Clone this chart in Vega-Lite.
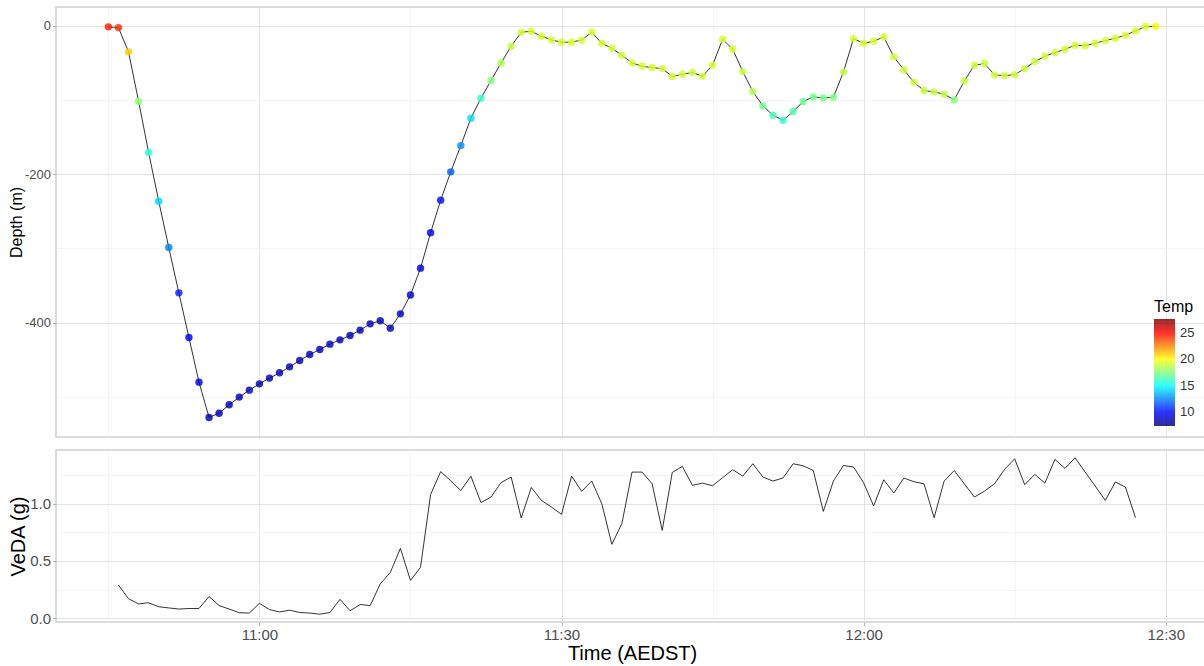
{
  "$schema": "https://vega.github.io/schema/vega-lite/v6.json",
  "background": "white",
  "padding": {"left": 7, "top": 6, "right": 0, "bottom": 0},
  "spacing": 11,
  "config": {
    "font": "Liberation Sans",
    "view": {"stroke": "#d0d0d0", "strokeWidth": 1.5},
    "legend": {"titleFontWeight": "normal"},
    "axis": {
      "domain": false,
      "tickColor": "#b3b3b3",
      "tickSize": 3.5,
      "labelColor": "#4d4d4d",
      "labelPadding": 2,
      "titleColor": "black",
      "titleFontWeight": "normal"
    }
  },
  "vconcat": [
    {
      "width": 1152,
      "height": 430,
      "data": {
        "format": {"parse": {"time": "date:'%H:%M'"}},
        "values": [
          {"time": "10:45", "depth": -1.3, "temp": 24.5},
          {"time": "10:46", "depth": -2.3, "temp": 24.2},
          {"time": "10:47", "depth": -35, "temp": 21.0},
          {"time": "10:48", "depth": -101.5, "temp": 17.8},
          {"time": "10:49", "depth": -170.8, "temp": 15.8},
          {"time": "10:50", "depth": -236.3, "temp": 14.2},
          {"time": "10:51", "depth": -298.9, "temp": 12.5},
          {"time": "10:52", "depth": -360, "temp": 10.5},
          {"time": "10:53", "depth": -420.2, "temp": 9.9},
          {"time": "10:54", "depth": -480.4, "temp": 9.4},
          {"time": "10:55", "depth": -528, "temp": 8.6},
          {"time": "10:56", "depth": -522.3, "temp": 8.6},
          {"time": "10:57", "depth": -511, "temp": 8.6},
          {"time": "10:58", "depth": -500.6, "temp": 8.6},
          {"time": "10:59", "depth": -491.2, "temp": 8.6},
          {"time": "11:00", "depth": -482.7, "temp": 8.6},
          {"time": "11:01", "depth": -475, "temp": 8.6},
          {"time": "11:02", "depth": -467.8, "temp": 8.6},
          {"time": "11:03", "depth": -459.8, "temp": 8.6},
          {"time": "11:04", "depth": -451.2, "temp": 8.6},
          {"time": "11:05", "depth": -443.2, "temp": 8.6},
          {"time": "11:06", "depth": -436.4, "temp": 8.6},
          {"time": "11:07", "depth": -429.2, "temp": 8.6},
          {"time": "11:08", "depth": -423.4, "temp": 8.7},
          {"time": "11:09", "depth": -417.5, "temp": 8.7},
          {"time": "11:10", "depth": -410.3, "temp": 8.7},
          {"time": "11:11", "depth": -401.8, "temp": 8.7},
          {"time": "11:12", "depth": -397.7, "temp": 8.7},
          {"time": "11:13", "depth": -407.6, "temp": 8.7},
          {"time": "11:14", "depth": -388.3, "temp": 8.9},
          {"time": "11:15", "depth": -363, "temp": 9.2},
          {"time": "11:16", "depth": -326.7, "temp": 9.5},
          {"time": "11:17", "depth": -279, "temp": 9.8},
          {"time": "11:18", "depth": -235, "temp": 10.2},
          {"time": "11:19", "depth": -196.8, "temp": 11.8},
          {"time": "11:20", "depth": -161.4, "temp": 12.8},
          {"time": "11:21", "depth": -124.5, "temp": 14.3},
          {"time": "11:22", "depth": -97.5, "temp": 16.0},
          {"time": "11:23", "depth": -73.7, "temp": 17.6},
          {"time": "11:24", "depth": -49.9, "temp": 18.4},
          {"time": "11:25", "depth": -27.4, "temp": 18.9},
          {"time": "11:26", "depth": -8.5, "temp": 19.2},
          {"time": "11:27", "depth": -7.2, "temp": 19.3},
          {"time": "11:28", "depth": -13.9, "temp": 19.2},
          {"time": "11:29", "depth": -18.9, "temp": 19.2},
          {"time": "11:30", "depth": -22, "temp": 19.2},
          {"time": "11:31", "depth": -22, "temp": 19.2},
          {"time": "11:32", "depth": -18.9, "temp": 19.2},
          {"time": "11:33", "depth": -8.5, "temp": 19.3},
          {"time": "11:34", "depth": -23.4, "temp": 19.2},
          {"time": "11:35", "depth": -30.1, "temp": 19.2},
          {"time": "11:36", "depth": -39.6, "temp": 19.2},
          {"time": "11:37", "depth": -49.9, "temp": 19.2},
          {"time": "11:38", "depth": -54.4, "temp": 19.2},
          {"time": "11:39", "depth": -56.2, "temp": 19.2},
          {"time": "11:40", "depth": -57.6, "temp": 19.2},
          {"time": "11:41", "depth": -68.3, "temp": 19.1},
          {"time": "11:42", "depth": -65.2, "temp": 19.1},
          {"time": "11:43", "depth": -62.9, "temp": 19.1},
          {"time": "11:44", "depth": -67.9, "temp": 19.1},
          {"time": "11:45", "depth": -53, "temp": 19.2},
          {"time": "11:46", "depth": -18, "temp": 19.2},
          {"time": "11:47", "depth": -31.5, "temp": 19.2},
          {"time": "11:48", "depth": -61.6, "temp": 19.0},
          {"time": "11:49", "depth": -88.5, "temp": 18.5},
          {"time": "11:50", "depth": -107.9, "temp": 17.2},
          {"time": "11:51", "depth": -120.4, "temp": 16.3},
          {"time": "11:52", "depth": -127.2, "temp": 16.0},
          {"time": "11:53", "depth": -115.5, "temp": 16.5},
          {"time": "11:54", "depth": -102, "temp": 17.0},
          {"time": "11:55", "depth": -95.7, "temp": 17.3},
          {"time": "11:56", "depth": -97.1, "temp": 17.3},
          {"time": "11:57", "depth": -96.2, "temp": 17.4},
          {"time": "11:58", "depth": -62, "temp": 18.8},
          {"time": "11:59", "depth": -17.1, "temp": 19.2},
          {"time": "12:00", "depth": -23.4, "temp": 19.2},
          {"time": "12:01", "depth": -20.7, "temp": 19.2},
          {"time": "12:02", "depth": -14.8, "temp": 19.2},
          {"time": "12:03", "depth": -41.8, "temp": 19.1},
          {"time": "12:04", "depth": -59.3, "temp": 19.0},
          {"time": "12:05", "depth": -76, "temp": 19.0},
          {"time": "12:06", "depth": -87.2, "temp": 18.9},
          {"time": "12:07", "depth": -89, "temp": 18.9},
          {"time": "12:08", "depth": -92.1, "temp": 18.8},
          {"time": "12:09", "depth": -99.8, "temp": 17.6},
          {"time": "12:10", "depth": -74.2, "temp": 18.8},
          {"time": "12:11", "depth": -53, "temp": 19.0},
          {"time": "12:12", "depth": -50.8, "temp": 19.0},
          {"time": "12:13", "depth": -66.1, "temp": 19.0},
          {"time": "12:14", "depth": -67, "temp": 19.0},
          {"time": "12:15", "depth": -65.7, "temp": 19.0},
          {"time": "12:16", "depth": -57.6, "temp": 19.1},
          {"time": "12:17", "depth": -48.1, "temp": 19.1},
          {"time": "12:18", "depth": -40.9, "temp": 19.1},
          {"time": "12:19", "depth": -36, "temp": 19.1},
          {"time": "12:20", "depth": -31.5, "temp": 19.2},
          {"time": "12:21", "depth": -26, "temp": 19.2},
          {"time": "12:22", "depth": -26.6, "temp": 19.2},
          {"time": "12:23", "depth": -23.4, "temp": 19.2},
          {"time": "12:24", "depth": -19.8, "temp": 19.2},
          {"time": "12:25", "depth": -16.6, "temp": 19.3},
          {"time": "12:26", "depth": -12.6, "temp": 19.3},
          {"time": "12:27", "depth": -6.7, "temp": 19.3},
          {"time": "12:28", "depth": -0.9, "temp": 19.4},
          {"time": "12:29", "depth": -0.9, "temp": 19.8}
        ]
      },
      "encoding": {
        "x": {
          "field": "time",
          "type": "temporal",
          "scale": {
            "domain": [
              {"year": 1900, "month": 1, "date": 1, "hours": 10, "minutes": 39, "seconds": 48},
              {"year": 1900, "month": 1, "date": 1, "hours": 12, "minutes": 34, "seconds": 12}
            ],
            "nice": false
          },
          "axis": {
            "title": null,
            "labels": false,
            "ticks": false,
            "values": [
              {"year": 1900, "month": 1, "date": 1, "hours": 10, "minutes": 45},
              {"year": 1900, "month": 1, "date": 1, "hours": 11, "minutes": 0},
              {"year": 1900, "month": 1, "date": 1, "hours": 11, "minutes": 15},
              {"year": 1900, "month": 1, "date": 1, "hours": 11, "minutes": 30},
              {"year": 1900, "month": 1, "date": 1, "hours": 11, "minutes": 45},
              {"year": 1900, "month": 1, "date": 1, "hours": 12, "minutes": 0},
              {"year": 1900, "month": 1, "date": 1, "hours": 12, "minutes": 15},
              {"year": 1900, "month": 1, "date": 1, "hours": 12, "minutes": 30}
            ],
            "gridColor": {"condition": {"test": "minutes(datum.value) % 30 === 0", "value": "#e4e4e4"}, "value": "#f0f0f0"},
            "gridWidth": {"condition": {"test": "minutes(datum.value) % 30 === 0", "value": 1}, "value": 0.7}
          }
        },
        "y": {
          "field": "depth",
          "type": "quantitative",
          "scale": {"domain": [-554.4, 25.5], "nice": false, "zero": false},
          "axis": {
            "title": "Depth (m)",
            "titleFontSize": 16,
            "titleX": -40,
            "titleBaseline": "middle",
            "labelFontSize": 13,
            "values": [-500, -400, -300, -200, -100, 0],
            "labelExpr": "datum.value % 200 === 0 ? toString(datum.value) : ''",
            "tickOpacity": {"condition": {"test": "datum.value % 200 === 0", "value": 1}, "value": 0},
            "gridColor": {"condition": {"test": "datum.value % 200 === 0", "value": "#e4e4e4"}, "value": "#f0f0f0"},
            "gridWidth": {"condition": {"test": "datum.value % 200 === 0", "value": 1}, "value": 0.7}
          }
        }
      },
      "layer": [
        {
          "mark": {"type": "line", "color": "black", "strokeWidth": 0.8}
        },
        {
          "mark": {"type": "point", "filled": true, "size": 55, "opacity": 0.82, "strokeWidth": 0},
          "encoding": {
            "color": {
              "field": "temp",
              "type": "quantitative",
              "scale": {
                "domain": [7.34, 27.66],
                "interpolate": "rgb",
                "range": ["#00007F", "#0000FF", "#007FFF", "#00FFFF", "#7FFF7F", "#FFFF00", "#FF7F00", "#FF0000", "#7F0000"]
              },
              "legend": {
                "title": "Temp",
                "orient": "none",
                "legendX": 1098,
                "legendY": 292,
                "direction": "vertical",
                "gradientLength": 107,
                "gradientThickness": 21,
                "gradientStrokeWidth": 0,
                "values": [10, 15, 20, 25],
                "titleFontSize": 16,
                "titleFontWeight": "normal",
                "titleColor": "black",
                "titlePadding": 4,
                "labelFontSize": 13,
                "labelColor": "#333333",
                "labelOffset": 5
              }
            }
          }
        }
      ]
    },
    {
      "width": 1152,
      "height": 172,
      "data": {
        "format": {"parse": {"time": "date:'%H:%M'"}},
        "values": [
          {"time": "10:46", "veda": 0.29},
          {"time": "10:47", "veda": 0.17},
          {"time": "10:48", "veda": 0.125},
          {"time": "10:49", "veda": 0.135},
          {"time": "10:50", "veda": 0.10},
          {"time": "10:51", "veda": 0.09},
          {"time": "10:52", "veda": 0.08},
          {"time": "10:53", "veda": 0.085},
          {"time": "10:54", "veda": 0.085},
          {"time": "10:55", "veda": 0.19},
          {"time": "10:56", "veda": 0.11},
          {"time": "10:57", "veda": 0.08},
          {"time": "10:58", "veda": 0.048},
          {"time": "10:59", "veda": 0.045},
          {"time": "11:00", "veda": 0.13},
          {"time": "11:01", "veda": 0.075},
          {"time": "11:02", "veda": 0.055},
          {"time": "11:03", "veda": 0.07},
          {"time": "11:04", "veda": 0.05},
          {"time": "11:05", "veda": 0.045},
          {"time": "11:06", "veda": 0.035},
          {"time": "11:07", "veda": 0.05},
          {"time": "11:08", "veda": 0.165},
          {"time": "11:09", "veda": 0.065},
          {"time": "11:10", "veda": 0.12},
          {"time": "11:11", "veda": 0.11},
          {"time": "11:12", "veda": 0.30},
          {"time": "11:13", "veda": 0.40},
          {"time": "11:14", "veda": 0.61},
          {"time": "11:15", "veda": 0.33},
          {"time": "11:16", "veda": 0.445},
          {"time": "11:17", "veda": 1.08},
          {"time": "11:18", "veda": 1.28},
          {"time": "11:19", "veda": 1.20},
          {"time": "11:20", "veda": 1.115},
          {"time": "11:21", "veda": 1.24},
          {"time": "11:22", "veda": 1.01},
          {"time": "11:23", "veda": 1.058},
          {"time": "11:24", "veda": 1.185},
          {"time": "11:25", "veda": 1.233},
          {"time": "11:26", "veda": 0.875},
          {"time": "11:27", "veda": 1.142},
          {"time": "11:28", "veda": 1.029},
          {"time": "11:29", "veda": 0.971},
          {"time": "11:30", "veda": 0.907},
          {"time": "11:31", "veda": 1.241},
          {"time": "11:32", "veda": 1.108},
          {"time": "11:33", "veda": 1.198},
          {"time": "11:34", "veda": 1.0},
          {"time": "11:35", "veda": 0.645},
          {"time": "11:36", "veda": 0.828},
          {"time": "11:37", "veda": 1.276},
          {"time": "11:38", "veda": 1.276},
          {"time": "11:39", "veda": 1.174},
          {"time": "11:40", "veda": 0.767},
          {"time": "11:41", "veda": 1.273},
          {"time": "11:42", "veda": 1.326},
          {"time": "11:43", "veda": 1.16},
          {"time": "11:44", "veda": 1.18},
          {"time": "11:45", "veda": 1.157},
          {"time": "11:46", "veda": 1.227},
          {"time": "11:47", "veda": 1.297},
          {"time": "11:48", "veda": 1.241},
          {"time": "11:49", "veda": 1.349},
          {"time": "11:50", "veda": 1.233},
          {"time": "11:51", "veda": 1.198},
          {"time": "11:52", "veda": 1.225},
          {"time": "11:53", "veda": 1.349},
          {"time": "11:54", "veda": 1.331},
          {"time": "11:55", "veda": 1.29},
          {"time": "11:56", "veda": 0.933},
          {"time": "11:57", "veda": 1.198},
          {"time": "11:58", "veda": 1.334},
          {"time": "11:59", "veda": 1.32},
          {"time": "12:00", "veda": 1.183},
          {"time": "12:01", "veda": 0.98},
          {"time": "12:02", "veda": 1.209},
          {"time": "12:03", "veda": 1.093},
          {"time": "12:04", "veda": 1.224},
          {"time": "12:05", "veda": 1.192},
          {"time": "12:06", "veda": 1.174},
          {"time": "12:07", "veda": 0.878},
          {"time": "12:08", "veda": 1.198},
          {"time": "12:09", "veda": 1.29},
          {"time": "12:10", "veda": 1.174},
          {"time": "12:11", "veda": 1.058},
          {"time": "12:12", "veda": 1.11},
          {"time": "12:13", "veda": 1.174},
          {"time": "12:14", "veda": 1.3},
          {"time": "12:15", "veda": 1.392},
          {"time": "12:16", "veda": 1.166},
          {"time": "12:17", "veda": 1.256},
          {"time": "12:18", "veda": 1.18},
          {"time": "12:19", "veda": 1.387},
          {"time": "12:20", "veda": 1.308},
          {"time": "12:21", "veda": 1.401},
          {"time": "12:22", "veda": 1.276},
          {"time": "12:23", "veda": 1.154},
          {"time": "12:24", "veda": 1.029},
          {"time": "12:25", "veda": 1.189},
          {"time": "12:26", "veda": 1.145},
          {"time": "12:27", "veda": 0.878}
        ]
      },
      "mark": {"type": "line", "color": "black", "strokeWidth": 0.8},
      "encoding": {
        "x": {
          "field": "time",
          "type": "temporal",
          "scale": {
            "domain": [
              {"year": 1900, "month": 1, "date": 1, "hours": 10, "minutes": 39, "seconds": 48},
              {"year": 1900, "month": 1, "date": 1, "hours": 12, "minutes": 34, "seconds": 12}
            ],
            "nice": false
          },
          "axis": {
            "title": "Time (AEDST)",
            "titleFontSize": 20,
            "titlePadding": 1,
            "labelFontSize": 15,
            "format": "%H:%M",
            "labelOverlap": false,
            "labelFlush": false,
            "values": [
              {"year": 1900, "month": 1, "date": 1, "hours": 10, "minutes": 45},
              {"year": 1900, "month": 1, "date": 1, "hours": 11, "minutes": 0},
              {"year": 1900, "month": 1, "date": 1, "hours": 11, "minutes": 15},
              {"year": 1900, "month": 1, "date": 1, "hours": 11, "minutes": 30},
              {"year": 1900, "month": 1, "date": 1, "hours": 11, "minutes": 45},
              {"year": 1900, "month": 1, "date": 1, "hours": 12, "minutes": 0},
              {"year": 1900, "month": 1, "date": 1, "hours": 12, "minutes": 15},
              {"year": 1900, "month": 1, "date": 1, "hours": 12, "minutes": 30}
            ],
            "labelExpr": "minutes(datum.value) % 30 === 0 ? datum.label : ''",
            "tickOpacity": {"condition": {"test": "minutes(datum.value) % 30 === 0", "value": 1}, "value": 0},
            "gridColor": {"condition": {"test": "minutes(datum.value) % 30 === 0", "value": "#e4e4e4"}, "value": "#f0f0f0"},
            "gridWidth": {"condition": {"test": "minutes(datum.value) % 30 === 0", "value": 1}, "value": 0.7}
          }
        },
        "y": {
          "field": "veda",
          "type": "quantitative",
          "scale": {"domain": [-0.033, 1.469], "nice": false, "zero": false},
          "axis": {
            "title": "VeDA (g)",
            "titleFontSize": 20,
            "titleX": -38,
            "titleBaseline": "middle",
            "labelFontSize": 15,
            "format": ".1f",
            "values": [0, 0.25, 0.5, 0.75, 1, 1.25],
            "labelExpr": "round(datum.value * 4) % 2 === 0 ? datum.label : ''",
            "tickOpacity": {"condition": {"test": "round(datum.value * 4) % 2 === 0", "value": 1}, "value": 0},
            "gridColor": {"condition": {"test": "round(datum.value * 4) % 2 === 0", "value": "#e4e4e4"}, "value": "#f0f0f0"},
            "gridWidth": {"condition": {"test": "round(datum.value * 4) % 2 === 0", "value": 1}, "value": 0.7}
          }
        }
      }
    }
  ]
}
